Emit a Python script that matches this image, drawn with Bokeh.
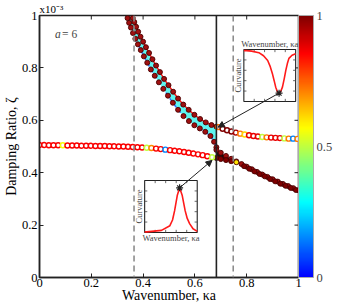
import numpy as np
from bokeh.plotting import figure
from bokeh.models import (Range1d, FixedTicker, ColorBar, LinearColorMapper,
                          Span, Label, Arrow, NormalHead, ColumnDataSource, NumeralTickFormatter)
from bokeh.embed import file_html
from bokeh.resources import INLINE

# ---------------- data ----------------
x_ticks = [0, 0.2, 0.4, 0.6, 0.8, 1]
y_ticks = [0, 0.2, 0.4, 0.6, 0.8, 1]
cbar_ticks = [0, 0.5, 1]
ref_lines_dashed = [0.365, 0.748]
ref_line_solid = [0.683]

# flat branch (left), damping ratio x1e-3
flat_k = [0.000, 0.018, 0.036, 0.054, 0.072, 0.090, 0.108, 0.126, 0.144, 0.162,
          0.180, 0.198, 0.216, 0.234, 0.252, 0.270, 0.288, 0.306, 0.324, 0.342,
          0.360, 0.378, 0.396, 0.414, 0.432, 0.450, 0.468, 0.486, 0.504, 0.522,
          0.540, 0.558, 0.576, 0.594, 0.612, 0.630, 0.648, 0.666]
flat_z = [0.506, 0.506, 0.505, 0.505, 0.505, 0.505, 0.504, 0.504, 0.504, 0.503,
          0.503, 0.503, 0.502, 0.502, 0.502, 0.501, 0.501, 0.500, 0.500, 0.499,
          0.498, 0.497, 0.496, 0.495, 0.494, 0.492, 0.490, 0.488, 0.486, 0.484,
          0.482, 0.479, 0.476, 0.473, 0.470, 0.467, 0.463, 0.459]
flat_c = [0.86, 0.86, 0.86, 0.86, 0.86, 0.56, 0.86, 0.86, 0.86, 0.86,
          0.86, 0.86, 0.86, 0.86, 0.86, 0.86, 0.86, 0.86, 0.86, 0.86,
          0.86, 0.86, 0.86, 0.50, 0.70, 0.86, 0.86, 0.15, 0.86, 0.86,
          0.86, 0.86, 0.86, 0.86, 0.86, 0.86, 0.86, 0.50]

# steep branch, upper edge (solid red line)
steep_up_k = [0.360, 0.366, 0.373, 0.381, 0.390, 0.400, 0.411, 0.423, 0.436, 0.450,
              0.465, 0.481, 0.498, 0.516, 0.535, 0.555, 0.576, 0.598, 0.620, 0.642,
              0.664, 0.683]
steep_up_z = [0.990, 0.975, 0.957, 0.938, 0.919, 0.900, 0.879, 0.857, 0.833, 0.809,
              0.784, 0.758, 0.734, 0.709, 0.683, 0.660, 0.640, 0.621, 0.605, 0.592,
              0.582, 0.576]
# steep branch, lower edge (blue dashed line)
steep_lo_k = [0.340, 0.346, 0.353, 0.361, 0.370, 0.380, 0.391, 0.403, 0.416, 0.430,
              0.445, 0.461, 0.478, 0.496, 0.515, 0.535, 0.556, 0.577, 0.598, 0.619,
              0.640, 0.660, 0.674, 0.683]
steep_lo_z = [0.990, 0.972, 0.954, 0.933, 0.911, 0.890, 0.868, 0.844, 0.820, 0.794,
              0.770, 0.745, 0.720, 0.694, 0.667, 0.640, 0.616, 0.597, 0.581, 0.569,
              0.556, 0.540, 0.518, 0.497]

# upper-right branch after veering
right_k = [0.690, 0.707, 0.724, 0.741, 0.758, 0.775, 0.792, 0.809, 0.826, 0.843,
           0.860, 0.877, 0.894, 0.911, 0.928, 0.945, 0.962, 0.979, 0.996]
right_z = [0.574, 0.568, 0.562, 0.557, 0.553, 0.549, 0.546, 0.543, 0.540, 0.538,
           0.536, 0.535, 0.534, 0.533, 0.532, 0.531, 0.530, 0.530, 0.529]
right_c = [0.72, 1.00, 1.00, 1.00, 0.95, 0.72, 0.62, 0.88, 0.88, 0.88,
           0.50, 0.72, 0.88, 0.88, 0.88, 0.50, 0.72, 0.15, 0.72]

# descending branch after veering (two close solutions)
desc1_k = [0.683, 0.700, 0.720, 0.740, 0.760, 0.780, 0.800, 0.820, 0.840, 0.860,
           0.880, 0.900, 0.920, 0.940, 0.960, 0.980, 1.000]
desc1_z = [0.487, 0.476, 0.464, 0.453, 0.443, 0.433, 0.423, 0.413, 0.403, 0.393,
           0.384, 0.375, 0.366, 0.357, 0.349, 0.341, 0.333]
desc2_k = [0.683, 0.700, 0.720, 0.740, 0.760, 0.790, 0.810, 0.830, 0.850, 0.870,
           0.890, 0.910, 0.930, 0.950, 0.970, 0.990]
desc2_z = [0.456, 0.452, 0.448, 0.444, 0.440, 0.425, 0.415, 0.405, 0.395, 0.386,
           0.376, 0.367, 0.358, 0.350, 0.342, 0.334]
desc2_c = [1.0, 1.0, 1.0, 1.0, 0.60, 1.0, 1.0, 1.0, 1.0, 1.0,
           1.0, 1.0, 1.0, 1.0, 1.0, 1.0]

# insets: curvature vs wavenumber (arbitrary units)
ins1_k = [0.550, 0.560, 0.580, 0.608, 0.626, 0.642, 0.652, 0.660, 0.667, 0.673,
          0.680, 0.686, 0.692, 0.699, 0.706, 0.712, 0.718, 0.724, 0.736, 0.750]
ins1_c = [0.98, 0.98, 0.97, 0.94, 0.88, 0.79, 0.67, 0.54, 0.40, 0.275,
          0.18, 0.16, 0.19, 0.275, 0.44, 0.60, 0.73, 0.83, 0.89, 0.92]
ins2_k = [0.550, 0.558, 0.614, 0.646, 0.656, 0.664, 0.674, 0.683, 0.693, 0.704,
          0.712, 0.721, 0.734, 0.750]
ins2_c = [0.01, 0.01, 0.04, 0.13, 0.24, 0.42, 0.71, 0.86, 0.71, 0.42,
          0.27, 0.17, 0.07, 0.02]

# ---------------- style ----------------
SERIF = "Liberation Serif"
INK = "#222222"


def jet_hex(t):
    s = 0.125 + 0.875 * t
    r = min(max(1.5 - abs(4 * s - 3), 0), 1)
    g = min(max(1.5 - abs(4 * s - 2), 0), 1)
    b = min(max(1.5 - abs(4 * s - 1), 0), 1)
    return "#%02x%02x%02x" % (int(round(r * 255)), int(round(g * 255)), int(round(b * 255)))


palette = [jet_hex(i / 255) for i in range(256)]
mapper = LinearColorMapper(palette=palette, low=0, high=1)

p = figure(width=341, height=307, x_range=Range1d(0, 1), y_range=Range1d(0, 1),
           output_backend="svg", toolbar_location=None,
           min_border_left=37, min_border_top=15, min_border_bottom=30, min_border_right=43)
p.grid.visible = False
p.outline_line_color = INK
p.outline_line_width = 1.5
p.background_fill_color = "white"
p.border_fill_color = "white"

# exponent shown above the top-left corner
p.title.text = "x10⁻³"
p.title.align = "left"
p.title.offset = 0
p.title.standoff = 1
p.title.text_font = SERIF
p.title.text_font_size = "11px"
p.title.text_font_style = "normal"
p.title.text_color = "black"

fmt = NumeralTickFormatter(format="0.[0]")
for ax, ticks in ((p.xaxis[0], x_ticks), (p.yaxis[0], y_ticks)):
    ax.ticker = FixedTicker(ticks=ticks)
    ax.formatter = fmt
    ax.major_tick_in = 4
    ax.major_tick_out = 0
    ax.minor_tick_line_color = None
    ax.axis_line_width = 1.5
    ax.axis_line_color = INK
    ax.major_tick_line_color = INK
    ax.major_label_text_font = SERIF
    ax.major_label_text_font_size = "12.5px"
    ax.major_label_text_color = "black"
    ax.axis_label_text_font = SERIF
    ax.axis_label_text_font_size = "14px"
    ax.axis_label_text_font_style = "normal"
    ax.axis_label_text_color = "black"
p.yaxis.major_label_standoff = 2
p.yaxis.axis_label_standoff = 0
p.xaxis.major_label_standoff = 1
p.xaxis.axis_label_standoff = -2
p.xaxis.axis_label = "Wavenumber, κa"
p.yaxis.axis_label = "Damping Ratio, ζ"

# mirrored inward ticks on top and right edges (screen-length rays)
p.ray(x=x_ticks[1:-1], y=[1] * (len(x_ticks) - 2), length=4, length_units="screen",
      angle=-np.pi / 2, line_color=INK, line_width=1)
p.ray(x=[1] * (len(y_ticks) - 2), y=y_ticks[1:-1], length=4, length_units="screen",
      angle=np.pi, line_color=INK, line_width=1)

cb = ColorBar(color_mapper=mapper, ticker=FixedTicker(ticks=cbar_ticks), formatter=fmt,
              width=15, height="auto", padding=0, margin=4, label_standoff=3,
              major_tick_line_color=None, minor_tick_line_color=None,
              bar_line_color="#aaaaaa", bar_line_width=1,
              major_label_text_font=SERIF, major_label_text_font_size="12.5px",
              background_fill_color=None, border_line_color=None)
p.add_layout(cb, "right")

# reference lines
for loc in ref_lines_dashed:
    p.add_layout(Span(location=loc, dimension="height", line_color="#8c8c8c",
                      line_width=1.6, line_dash="6 4"))
for loc in ref_line_solid:
    p.add_layout(Span(location=loc, dimension="height", line_color=INK, line_width=1.6))

# shaded regions
patch_x = steep_up_k + steep_lo_k[::-1]
patch_y = steep_up_z + steep_lo_z[::-1]
p.patch(patch_x, patch_y, fill_color="#5ef5f0", line_color=None)

lim = 0.76
b1 = [(k, z) for k, z in zip(desc1_k, desc1_z) if k <= lim]
b2 = [(k, z) for k, z in zip(desc2_k, desc2_z) if k <= lim]
p.patch([k for k, _ in b1] + [k for k, _ in b2[::-1]],
        [z for _, z in b1] + [z for _, z in b2[::-1]], fill_color="#111111", line_color=None)

# lines
p.line(steep_lo_k, steep_lo_z, line_color="#2f6bff", line_width=1.5, line_dash="4 3")
p.line(steep_up_k, steep_up_z, line_color="#ff1a1a", line_width=1.5)

# markers (dark solutions)
dark = dict(size=5, marker="circle", fill_color="#a01010", line_color="#4a0000", line_width=0.9)
p.scatter(steep_lo_k, steep_lo_z, **dark)
p.scatter(steep_up_k, steep_up_z, **dark)
p.scatter(desc1_k, desc1_z, **dark)
src_d2 = ColumnDataSource(dict(k=desc2_k, z=desc2_z, c=desc2_c))
p.scatter("k", "z", source=src_d2, size=5, marker="circle",
          fill_color={"field": "c", "transform": mapper}, line_color="#4a0000", line_width=0.9)

# coloured open markers
src_f = ColumnDataSource(dict(k=flat_k, z=flat_z, c=flat_c))
p.scatter("k", "z", source=src_f, size=5, marker="circle", fill_color="white", fill_alpha=0.6,
          line_color={"field": "c", "transform": mapper}, line_width=1.4)
src_r = ColumnDataSource(dict(k=right_k, z=right_z, c=right_c))
p.scatter("k", "z", source=src_r, size=5, marker="circle", fill_color="white", fill_alpha=0.6,
          line_color={"field": "c", "transform": mapper}, line_width=1.4)

# ---------------- insets ----------------
K_RANGE = (0.55, 0.75)
C_RANGE = (0.0, 1.0)
inset1_box = (0.789, 0.989, 0.672, 0.870)
inset2_box = (0.406, 0.609, 0.172, 0.370)


def make_inset(name, box, kk, cc, extremum, label_above):
    bx0, bx1, by0, by1 = box
    k0, k1 = K_RANGE
    c0, c1 = C_RANGE
    sx = (k1 - k0) / (bx1 - bx0)
    sy = (c1 - c0) / (by1 - by0)
    xs = k0 - bx0 * sx
    ys = c0 - by0 * sy
    p.extra_x_ranges[name + "x"] = Range1d(xs, xs + sx)
    p.extra_y_ranges[name + "y"] = Range1d(ys, ys + sy)
    rn = dict(x_range_name=name + "x", y_range_name=name + "y")
    p.quad(left=k0, right=k1, bottom=c0, top=c1, fill_color="white",
           line_color=INK, line_width=1.1, **rn)
    # small inward ticks
    fr = [0.2, 0.4, 0.6, 0.8]
    tk = [k0 + f * (k1 - k0) for f in fr]
    tc = [c0 + f * (c1 - c0) for f in fr]
    dl = 0.05
    p.segment(tk, [c0] * 4, tk, [c0 + dl] * 4, line_color="#444444", line_width=0.8, **rn)
    p.segment(tk, [c1] * 4, tk, [c1 - dl] * 4, line_color="#444444", line_width=0.8, **rn)
    p.segment([k0] * 4, tc, [k0 + dl * (k1 - k0)] * 4, tc, line_color="#444444", line_width=0.8, **rn)
    p.segment([k1] * 4, tc, [k1 - dl * (k1 - k0)] * 4, tc, line_color="#444444", line_width=0.8, **rn)
    p.line(kk, cc, line_color="#ff1a1a", line_width=1.6, **rn)
    i = int(np.argmin(cc)) if extremum == "min" else int(np.argmax(cc))
    p.scatter([kk[i]], [cc[i]], marker="asterisk", size=7, line_color=INK, line_width=1.2, **rn)
    p.add_layout(Label(x=k0, y=(c0 + c1) / 2, x_offset=-1, text="Curvature", angle=90,
                       angle_units="deg", text_align="center", text_baseline="bottom",
                       text_font=SERIF, text_font_size="8.5px", **rn))
    if label_above:
        p.add_layout(Label(x=(k0 + k1) / 2, y=c1, y_offset=1, text="Wavenumber, κa",
                           text_align="center", text_baseline="bottom",
                           text_font=SERIF, text_font_size="8.5px", **rn))
    else:
        p.add_layout(Label(x=(k0 + k1) / 2, y=c0, y_offset=-1, text="Wavenumber, κa",
                           text_align="center", text_baseline="top",
                           text_font=SERIF, text_font_size="8.5px", **rn))
    # star position in main-data coordinates
    return bx0 + (kk[i] - k0) / sx, by0 + (cc[i] - c0) / sy


s1 = make_inset("in1", inset1_box, ins1_k, ins1_c, "min", True)
s2 = make_inset("in2", inset2_box, ins2_k, ins2_c, "max", False)

p.add_layout(Arrow(end=NormalHead(size=6, fill_color=INK, line_color=INK),
                   x_start=s1[0], y_start=s1[1], x_end=right_k[0], y_end=right_z[0],
                   line_color=INK, line_width=1))
p.add_layout(Arrow(end=NormalHead(size=6, fill_color=INK, line_color=INK),
                   x_start=s2[0], y_start=s2[1], x_end=flat_k[-1], y_end=flat_z[-1] - 0.012,
                   line_color=INK, line_width=1))

# parameter note inside the frame
p.add_layout(Label(x=0.06, y=0.93, text="a", text_font=SERIF, text_font_style="italic",
                   text_font_size="11.5px", text_baseline="alphabetic"))
p.add_layout(Label(x=0.06, y=0.93, x_offset=7, text="= 6", text_font=SERIF,
                   text_font_size="11.5px", text_baseline="alphabetic"))

open("out.html", "w").write(file_html(p, INLINE))
